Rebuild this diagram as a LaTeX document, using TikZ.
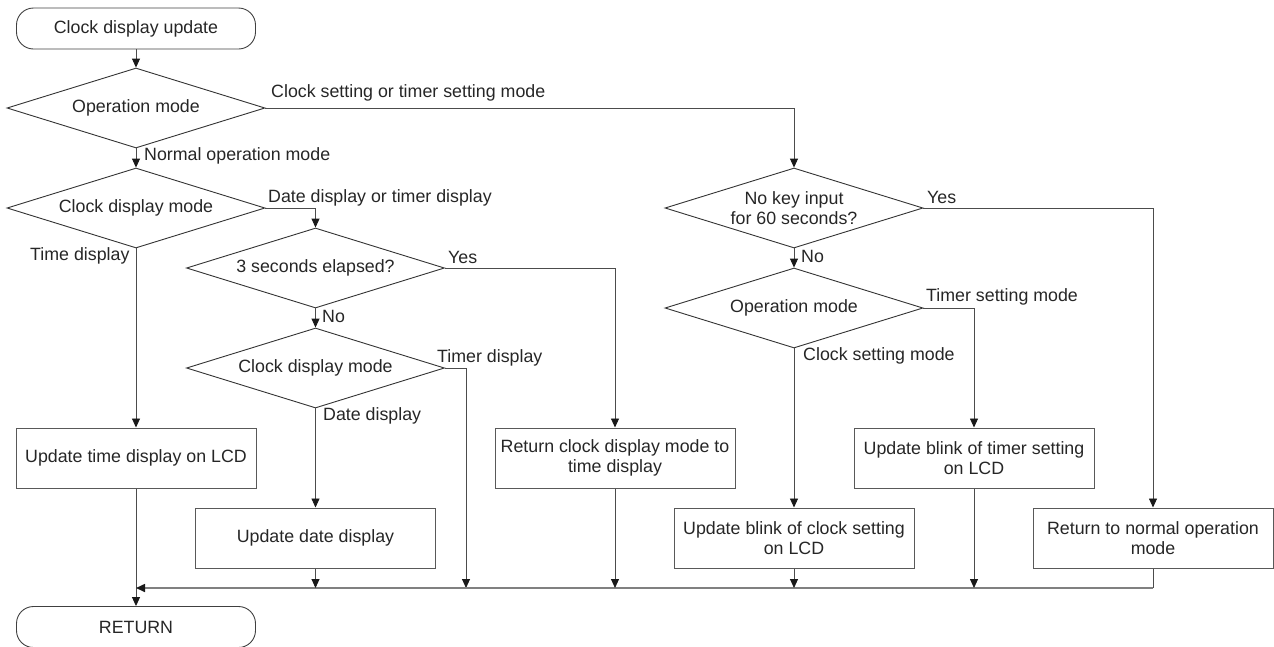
\documentclass[tikz,border=0pt]{standalone}
\usepackage{fontspec}
\setmainfont{Liberation Sans}
\usetikzlibrary{shapes.geometric,arrows.meta}
\begin{document}
\begin{tikzpicture}[x=1pt,y=-1pt,
  font=\fontsize{17.8}{20}\selectfont,
  every node/.style={text=black!85},
  term/.style={draw=black!75, line width=0.9pt, rounded corners=17pt, minimum width=239pt, minimum height=41pt, inner sep=0pt},
  dec/.style={draw=black!80, line width=0.9pt, shape=diamond, aspect=3.2, minimum width=258pt, minimum height=80pt, inner sep=0pt, align=center},
  proc/.style={draw=black!65, line width=1pt, minimum width=240pt, minimum height=60pt, inner sep=0pt, align=center},
  conn/.style={draw=black!70, line width=0.9pt},
  tip/.tip={Triangle[length=9pt,width=8pt,color=black!90]},
  arr/.style={conn, -tip},
  lbl/.style={anchor=west, inner sep=0pt},
  mergeline/.style={draw=black!50, line width=1.6pt}
]
\useasboundingbox (0,0) rectangle (1274,646);

% nodes
\node[term] (start) at (136,28.5) {Clock display update};
\node[dec] (op1) at (136,108) {Operation mode};
\node[dec] (cd1) at (136,208) {Clock display mode};
\node[dec] (sec3) at (315.5,268) {3 seconds elapsed?};
\node[dec] (cd2) at (315.5,368) {Clock display mode};
\node[dec] (nokey) at (794,208) {No key input\\for 60 seconds?};
\node[dec] (op2) at (794,308) {Operation mode};
\node[proc] (updtime) at (136,458) {Update time display on LCD};
\node[proc] (retclock) at (615,458) {Return clock display mode to\\time display};
\node[proc] (upddate) at (315.5,538) {Update date display};
\node[proc] (blinkclk) at (794,538) {Update blink of clock setting\\on LCD};
\node[proc] (blinktmr) at (974,458) {Update blink of timer setting\\on LCD};
\node[proc] (retnorm) at (1153,538) {Return to normal operation\\mode};
\node[term] (ret) at (136,627) {RETURN};

% merge coordinates
\coordinate (mergeL) at (136,588);
\coordinate (tmrx) at (466,588);

% connectors
\draw[arr] (start.south) -- (op1.north);
\draw[arr] (op1.east) -| (nokey.north);
\draw[arr] (op1.south) -- (cd1.north);
\draw[arr] (cd1.east) -| (sec3.north);
\draw[arr] (cd1.south) -- (updtime.north);
\draw[arr] (sec3.east) -| (retclock.north);
\draw[arr] (sec3.south) -- (cd2.north);
\draw[arr] (cd2.south) -- (upddate.north);
\draw[arr] (cd2.east) -| (tmrx);
\draw[arr] (nokey.east) -| (retnorm.north);
\draw[arr] (nokey.south) -- (op2.north);
\draw[arr] (op2.south) -- (blinkclk.north);
\draw[arr] (op2.east) -| (blinktmr.north);
\draw[arr] (updtime.south) -- (ret.north);

\draw[conn] (retnorm.south) -- (retnorm.south |- mergeL);
\draw[mergeline, -tip] (retnorm.south |- mergeL) -- (mergeL);
\draw[arr] (upddate.south) -- (upddate.south |- mergeL);
\draw[arr] (retclock.south) -- (retclock.south |- mergeL);
\draw[arr] (blinkclk.south) -- (blinkclk.south |- mergeL);
\draw[arr] (blinktmr.south) -- (blinktmr.south |- mergeL);

% labels
\node[lbl] (l1) at (271,93) {Clock setting or timer setting mode};
\node[lbl] (l2) at (144,156) {Normal operation mode};
\node[lbl] (l3) at (268,198) {Date display or timer display};
\node[lbl] (l4) at (30,256) {Time display};
\node[lbl] (l5) at (448,257) {Yes};
\node[lbl] (l6) at (322,316) {No};
\node[lbl] (l7) at (437,358) {Timer display};
\node[lbl] (l8) at (323,416) {Date display};
\node[lbl] (l9) at (927,197) {Yes};
\node[lbl] (l10) at (801,256) {No};
\node[lbl] (l11) at (926,297) {Timer setting mode};
\node[lbl] (l12) at (803,356) {Clock setting mode};
\end{tikzpicture}
\end{document}
